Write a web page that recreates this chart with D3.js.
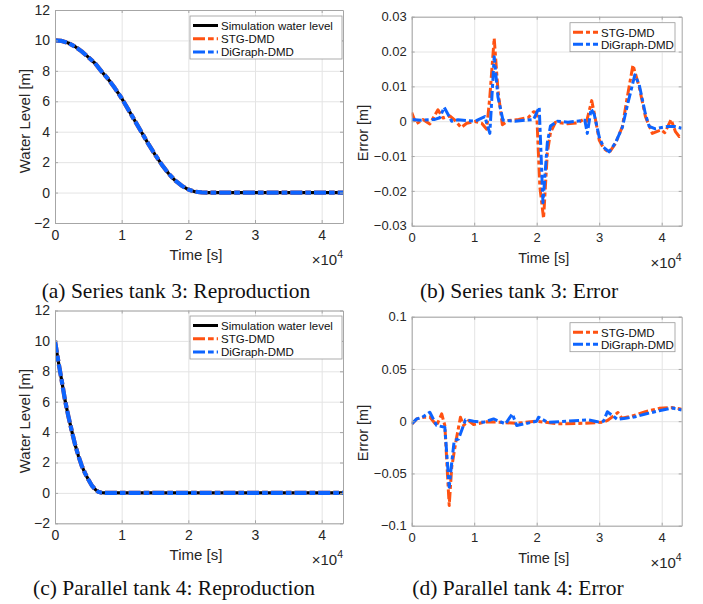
<!DOCTYPE html>
<html>
<head>
<meta charset="utf-8">
<script src="https://cdn.jsdelivr.net/npm/d3@7"></script>
<style>
body { margin: 0; background: #fff; }
svg { display: block; font-family: "Liberation Sans", Arial, sans-serif; }
.grid line { stroke: #e4e4e4; stroke-width: 1; }
.grid path { display: none; }
.frame path, .frame line { stroke: #a6a6a6; stroke-width: 1; }
.frame text { fill: #262626; }
.caption { font-family: "Liberation Serif", "Times New Roman", serif; font-size: 21.5px; fill: #111; }
</style>
</head>
<body>
<svg id="fig" width="703" height="604"></svg>
<script>
// tick values and labels
var timeTicks = [0, 10000, 20000, 30000, 40000];
var timeTickLabels = ['0', '1', '2', '3', '4'];
var levelTicks = [-2, 0, 2, 4, 6, 8, 10, 12];
var levelTickLabels = ['\u22122', '0', '2', '4', '6', '8', '10', '12'];
var err3Ticks = [-0.03, -0.02, -0.01, 0, 0.01, 0.02, 0.03];
var err3TickLabels = ['\u22120.03', '\u22120.02', '\u22120.01', '0', '0.01', '0.02', '0.03'];
var err4Ticks = [-0.1, -0.05, 0, 0.05, 0.1];
var err4TickLabels = ['\u22120.1', '\u22120.05', '0', '0.05', '0.1'];

// (a) series tank 3 water level [s], [m]
var series3Time = [0, 1000, 2000, 3000, 4000, 5000, 6000, 7000, 8000, 9000, 10000, 11000, 12000, 13000,
    14000, 15000, 16000, 17000, 18000, 19000, 20000, 21000, 22000, 23000, 43200];
var series3Level = [10, 9.97, 9.83, 9.6, 9.28, 8.9, 8.5, 7.95, 7.45, 6.85, 6.2, 5.45, 4.7, 3.95,
    3.2, 2.5, 1.85, 1.27, 0.8, 0.45, 0.2, 0.06, 0.01, 0, 0];

// (c) parallel tank 4 water level
var parallel4Time = [0, 500, 1000, 1500, 2000, 2500, 3000, 3500, 4000, 4500, 5000, 5500, 6000, 6500, 7000, 7500, 43200];
var parallel4Level = [10, 8.65, 7.4, 6.1, 5.05, 4.1, 3.2, 2.45, 1.8, 1.3, 0.88, 0.5, 0.24, 0.07, 0.01, 0, 0];

// (b) series tank 3 error
var stg3Time = [0, 700, 1800, 2900, 4200, 5000, 6100, 6900, 7900, 8800, 10100, 11200, 12000, 12500, 13200,
    13800, 14500, 15500, 17100, 18700, 19500, 20000, 20500, 21100, 21700, 22200, 23000, 24900, 26500, 27500,
    28000, 28800, 29300, 30000, 30700, 31600, 32600, 33700, 34500, 35400, 36400, 37400, 38500, 39900, 40500,
    41500, 42200, 42800, 43200];
var stg3Error = [0.0025, -0.0008, 0.0005, -0.0008, 0.0033, 0.0009, 0.0015, 0.0003, -0.0018, -0.0006,
    -0.0001, -0.0006, -0.0023, 0.007, 0.0238, 0.0089, -0.001, 0.0002, 0.0005, 0.0011,
    0.0027, 0.0025, -0.0188, -0.0279, -0.0091, -0.0033, -0.0003, -0.0007, -0.0005, 0.0005,
    0.0, 0.0059, 0.0015, -0.0054, -0.0078, -0.009, -0.0064, -0.0016, 0.007, 0.0161,
    0.0099, 0.0013, -0.0035, -0.0025, -0.0033, 0.0005, -0.003, -0.0044, -0.0038];
var dg3Time = [0, 1500, 3700, 4500, 5200, 6400, 7400, 10100, 11700, 12500, 13200, 13800, 14600, 16500, 19500,
    20400, 21000, 21700, 22200, 23300, 25000, 27700, 28100, 28700, 29200, 30000, 30700, 31600, 32600, 33700,
    34500, 35700, 36400, 37400, 38000, 39000, 40000, 41000, 42000, 43200];
var dg3Error = [0.0005, 0.0003, 0.0005, 0.001, 0.004, 0.0, 0.0004, 0.0, 0.0013, -0.0035,
    0.0185, 0.007, 0.0003, 0.0, 0.0005, 0.004, -0.0234, -0.0062, -0.0014, 0.0,
    -0.0003, 0.0003, -0.0035, 0.0035, 0.002, -0.0045, -0.0075, -0.0088, -0.0062, -0.0018,
    0.0045, 0.0133, 0.0105, 0.002, -0.0015, -0.0022, -0.0018, -0.0015, -0.0015, -0.002];

// (d) parallel tank 4 error
var stg4Time = [0, 800, 1900, 2900, 4000, 4800, 5300, 6000, 6400, 7100, 7800, 8300, 9100, 9900, 12000,
    14000, 16800, 20000, 23300, 27500, 30700, 31400, 33000, 33600, 35300, 37400, 39600, 41700, 43200];
var stg4Error = [-0.003, 0.0022, 0.0038, 0.004, -0.004, 0.007, -0.0041, -0.0807, -0.044, -0.0185,
    0.0038, -0.0041, 0.0006, -0.0032, -0.0005, -0.001, -0.002, 0.0, -0.0025, -0.002,
    -0.001, 0.001, 0.0083, 0.0028, 0.005, 0.0091, 0.0123, 0.013, 0.0114];
var dg4Time = [0, 800, 1700, 2900, 4000, 5300, 6000, 6400, 6800, 7500, 8600, 9900, 11500, 13100, 15000,
    16100, 16800, 20000, 20300, 21700, 24900, 28300, 29700, 30700, 31300, 32900, 34200, 35800, 37400, 39600,
    41700, 43200];
var dg4Error = [-0.0026, 0.0022, 0.0038, 0.0086, -0.0041, -0.0057, -0.063, -0.04, -0.0185, -0.017,
    0.0013, 0.0, -0.001, 0.0022, -0.0026, 0.007, -0.0041, 0.0, 0.0038, -0.001,
    0.0, 0.0013, -0.0006, 0.0, 0.0091, 0.0018, 0.0028, 0.0043, 0.0069, 0.01,
    0.0126, 0.0107];

var black = '#000000', orange = '#ff5212', blue = '#0d64ff';

var svg = d3.select('#fig');

// pair up a time array and a value array into points
function zipSeries(ts, vs) {
    return ts.map(function(t, i) { return [t, vs[i]]; });
}

function drawPanel(p, id) {
    var w = p.right - p.left, h = p.bottom - p.top;
    var x = d3.scaleLinear().domain([0, 43200]).range([p.left, p.right]);
    var y = d3.scaleLinear().domain(p.yDomain).range([p.bottom, p.top]);

    // grid lines
    svg.append('g').attr('class', 'grid')
        .attr('transform', 'translate(0,' + p.bottom + ')')
        .call(d3.axisBottom(x).tickValues(timeTicks).tickSize(-h).tickFormat(''));
    svg.append('g').attr('class', 'grid')
        .attr('transform', 'translate(' + p.left + ',0)')
        .call(d3.axisLeft(y).tickValues(p.yTicks).tickSize(-w).tickFormat(''));

    svg.append('clipPath').attr('id', 'clip' + id)
        .append('rect').attr('x', p.left).attr('y', p.top).attr('width', w).attr('height', h);

    var line = d3.line().x(function(d) { return x(d[0]); }).y(function(d) { return y(d[1]); });
    var plot = svg.append('g').attr('clip-path', 'url(#clip' + id + ')');
    p.series.forEach(function(s) {
        plot.append('path')
            .datum(zipSeries(s.t, s.v))
            .attr('d', line)
            .attr('fill', 'none')
            .attr('stroke', s.color)
            .attr('stroke-width', s.width)
            .attr('stroke-dasharray', s.dash)
            .attr('stroke-linejoin', 'round');
    });

    // axes box with inward ticks
    var fs = p.tickFont + 'px';
    svg.append('g').attr('class', 'frame')
        .attr('transform', 'translate(0,' + p.bottom + ')')
        .call(d3.axisBottom(x).tickValues(timeTicks).tickSize(-3).tickSizeOuter(0).tickPadding(7)
            .tickFormat(function(d, i) { return timeTickLabels[i]; }))
        .selectAll('text').style('font-size', fs);
    svg.append('g').attr('class', 'frame')
        .attr('transform', 'translate(' + p.left + ',0)')
        .call(d3.axisLeft(y).tickValues(p.yTicks).tickSize(-3).tickSizeOuter(0).tickPadding(5)
            .tickFormat(function(d, i) { return p.yTickLabels[i]; }))
        .selectAll('text').style('font-size', fs);
    svg.append('g').attr('class', 'frame')
        .attr('transform', 'translate(0,' + p.top + ')')
        .call(d3.axisTop(x).tickValues(timeTicks).tickSize(-3).tickSizeOuter(0).tickFormat(''));
    svg.append('g').attr('class', 'frame')
        .attr('transform', 'translate(' + p.right + ',0)')
        .call(d3.axisRight(y).tickValues(p.yTicks).tickSize(-3).tickSizeOuter(0).tickFormat(''));

    // axis titles
    svg.append('text')
        .attr('x', (p.left + p.right) / 2 - 3).attr('y', p.bottom + 37)
        .attr('text-anchor', 'middle').style('font-size', p.labelFont + 'px').attr('fill', '#262626')
        .text('Time [s]');
    svg.append('text')
        .attr('transform', 'translate(' + p.yLabelX + ',' + p.yLabelY + ') rotate(-90)')
        .attr('text-anchor', 'middle').style('font-size', p.labelFont + 'px').attr('fill', '#262626')
        .text(p.yLabel);
    var ex = svg.append('text')
        .attr('x', p.right).attr('y', p.bottom + 42)
        .attr('text-anchor', 'end').style('font-size', '15px').attr('fill', '#262626');
    ex.append('tspan').text('\u00d710');
    ex.append('tspan').attr('dy', -7).style('font-size', '10.5px').text('4');

    // legend
    var lg = p.legend;
    var entries = p.series.filter(function(s) { return s.name; });
    svg.append('rect')
        .attr('x', lg.x).attr('y', lg.y).attr('width', lg.w).attr('height', lg.h)
        .attr('fill', '#fff').attr('stroke', '#9a9a9a').attr('stroke-width', 0.8);
    entries.forEach(function(s, i) {
        var yy = lg.y + lg.first + i * lg.step;
        svg.append('line')
            .attr('x1', lg.x + 3).attr('x2', lg.x + 28).attr('y1', yy).attr('y2', yy)
            .attr('stroke', s.color).attr('stroke-width', s.legendWidth)
            .attr('stroke-dasharray', s.dash);
        svg.append('text')
            .attr('x', lg.x + 31).attr('y', yy + 4.2)
            .style('font-size', '11.5px').attr('fill', '#111')
            .text(s.name);
    });

    svg.append('text').attr('class', 'caption')
        .attr('x', p.captionX).attr('y', p.captionY)
        .attr('text-anchor', 'middle')
        .text(p.caption);
}

var repDash = '12,3,5.7,3', errDash = '10,3,4,3';

function reproductionSeries(ts, vs) {
    return [
        { name: 'Simulation water level', t: ts, v: vs, color: black, width: 3.2, legendWidth: 3, dash: null },
        { name: 'STG-DMD', t: ts, v: vs, color: orange, width: 4.2, legendWidth: 3, dash: repDash },
        { name: 'DiGraph-DMD', t: ts, v: vs, color: blue, width: 4.2, legendWidth: 3, dash: repDash }
    ];
}

drawPanel({
    left: 55, right: 343, top: 10, bottom: 223,
    yDomain: [-2, 12], yTicks: levelTicks, yTickLabels: levelTickLabels,
    yLabel: 'Water Level [m]', yLabelX: 30, yLabelY: 121,
    tickFont: 14, labelFont: 15,
    series: reproductionSeries(series3Time, series3Level),
    legend: { x: 190, y: 16, w: 152, h: 43, first: 9.5, step: 13.3 },
    caption: '(a) Series tank 3: Reproduction', captionX: 176, captionY: 298
}, 'a');

drawPanel({
    left: 411.7, right: 681.7, top: 16.7, bottom: 225.7,
    yDomain: [-0.03, 0.03], yTicks: err3Ticks, yTickLabels: err3TickLabels,
    yLabel: 'Error [m]', yLabelX: 368, yLabelY: 133,
    tickFont: 13, labelFont: 14.5,
    series: [
        { name: 'STG-DMD', t: stg3Time, v: stg3Error, color: orange, width: 3, legendWidth: 3, dash: errDash },
        { name: 'DiGraph-DMD', t: dg3Time, v: dg3Error, color: blue, width: 3, legendWidth: 3, dash: errDash }
    ],
    legend: { x: 570, y: 22.7, w: 105, h: 29, first: 9.6, step: 12 },
    caption: '(b) Series tank 3: Error', captionX: 519, captionY: 298
}, 'b');

drawPanel({
    left: 55, right: 343, top: 310.5, bottom: 523.3,
    yDomain: [-2, 12], yTicks: levelTicks, yTickLabels: levelTickLabels,
    yLabel: 'Water Level [m]', yLabelX: 30, yLabelY: 421,
    tickFont: 14, labelFont: 15,
    series: reproductionSeries(parallel4Time, parallel4Level),
    legend: { x: 190, y: 316, w: 152, h: 43, first: 9.5, step: 13.3 },
    caption: '(c) Parallel tank 4: Reproduction', captionX: 174, captionY: 595
}, 'c');

drawPanel({
    left: 411.7, right: 681.7, top: 316.7, bottom: 525.7,
    yDomain: [-0.1, 0.1], yTicks: err4Ticks, yTickLabels: err4TickLabels,
    yLabel: 'Error [m]', yLabelX: 368, yLabelY: 433,
    tickFont: 13, labelFont: 14.5,
    series: [
        { name: 'STG-DMD', t: stg4Time, v: stg4Error, color: orange, width: 3, legendWidth: 3, dash: errDash },
        { name: 'DiGraph-DMD', t: dg4Time, v: dg4Error, color: blue, width: 3, legendWidth: 3, dash: errDash }
    ],
    legend: { x: 570, y: 322.7, w: 105, h: 29, first: 9.6, step: 12 },
    caption: '(d) Parallel tank 4: Error', captionX: 518, captionY: 595
}, 'd');
</script>
</body>
</html>
